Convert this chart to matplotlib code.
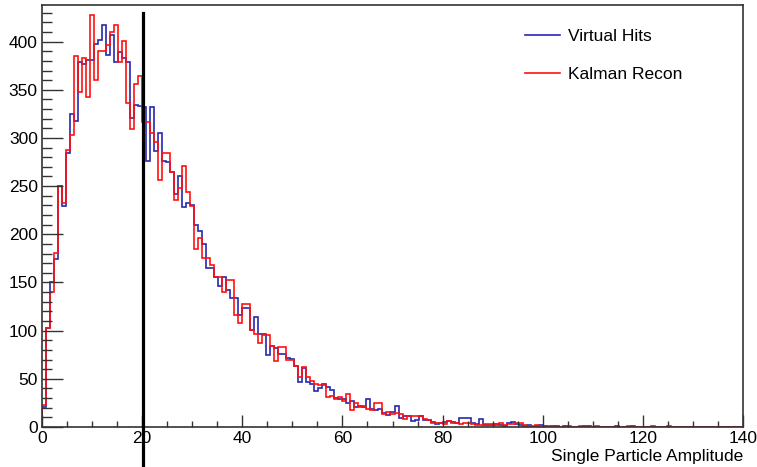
import numpy as np
import matplotlib
matplotlib.use("Agg")
import matplotlib.pyplot as plt
from matplotlib.ticker import MultipleLocator

# histogram contents, 175 bins of width 0.8 from 0 to 140
virtual_hits = [
    21, 103, 150, 174, 250, 229, 284, 325, 318, 379,
    377, 381, 381, 398, 402, 417, 386, 407, 379, 389,
    383, 379, 321, 334, 333, 332, 276, 332, 286, 305,
    276, 275, 265, 242, 260, 228, 232, 230, 210, 203,
    190, 165, 165, 156, 146, 156, 142, 134, 134, 116,
    123, 123, 101, 114, 97, 97, 75, 84, 82, 76,
    76, 72, 71, 63, 47, 61, 47, 45, 37, 40,
    45, 41, 38, 30, 29, 29, 25, 27, 21, 22,
    21, 29, 19, 18, 19, 15, 12, 16, 22, 9,
    11, 11, 6, 7, 11, 7, 7, 5, 3, 4,
    5, 6, 5, 4, 9, 9, 9, 4, 3, 8,
    2, 2, 2, 3, 2, 1, 4, 5, 3, 2,
    1, 2, 0, 1, 2, 1, 0, 1, 1, 0,
    1, 0, 0, 0, 0, 1, 1, 0, 0, 0,
    0, 0, 0, 1, 0, 0, 0, 1, 0, 0,
    0, 0, 0, 0, 0, 0, 0, 0, 0, 0,
    0, 0, 0, 0, 0, 0, 0, 0, 0, 0,
    0, 0, 0, 0, 0,
]
kalman_recon = [
    23, 103, 140, 181, 250, 233, 287, 303, 385, 348,
    383, 343, 428, 360, 390, 390, 397, 410, 417, 379,
    401, 336, 309, 356, 364, 317, 317, 305, 296, 256,
    284, 284, 265, 236, 248, 271, 244, 229, 185, 196,
    175, 175, 168, 156, 156, 140, 153, 153, 116, 108,
    128, 128, 101, 97, 87, 95, 95, 84, 69, 83,
    83, 70, 70, 63, 52, 62, 52, 48, 45, 44,
    44, 31, 32, 29, 31, 27, 34, 18, 25, 21,
    22, 19, 18, 25, 25, 14, 16, 14, 15, 14,
    8, 11, 11, 11, 11, 8, 7, 4, 4, 4,
    3, 6, 4, 4, 3, 4, 4, 3, 2, 2,
    3, 3, 3, 2, 4, 2, 3, 3, 4, 4,
    2, 1, 1, 2, 0, 1, 1, 0, 1, 0,
    0, 1, 0, 0, 1, 0, 0, 0, 1, 0,
    0, 0, 0, 0, 0, 0, 1, 0, 0, 0,
    0, 0, 1, 0, 0, 0, 1, 0, 0, 0,
    0, 0, 0, 0, 0, 0, 0, 0, 0, 0,
    0, 0, 0, 0, 0,
]
cut_value = 20.1

plt.rcParams['font.family'] = ['Liberation Sans', 'DejaVu Sans']

fig = plt.figure(figsize=(7.57, 4.67), dpi=100)
ax = fig.add_axes([42 / 757, 1 - 427 / 467, 701 / 757, 422 / 467])

edges = np.linspace(0, 140, len(virtual_hits) + 1)
ax.stairs(virtual_hits, edges, color='#2828b4', lw=1.2, label='Virtual Hits')
ax.stairs(kalman_recon, edges, color='#ff1010', lw=1.2, label='Kalman Recon')

# vertical cut line, runs past the bottom of the frame
ax.plot([cut_value, cut_value], [-45, 430], color='black', lw=2.3, clip_on=False, zorder=5)

ax.set_xlim(0, 140)
ax.set_ylim(0, 438)

ax.xaxis.set_major_locator(MultipleLocator(20))
ax.xaxis.set_minor_locator(MultipleLocator(5))
ax.yaxis.set_major_locator(MultipleLocator(50))
ax.yaxis.set_minor_locator(MultipleLocator(10))
ax.tick_params(axis='x', which='major', direction='in', length=8.5, width=1, pad=3,
               labelsize=12.5, color='#333333')
ax.tick_params(axis='x', which='minor', direction='in', length=4.3, width=1, color='#333333')
ax.tick_params(axis='y', which='major', direction='in', length=15, width=1, pad=3,
               labelsize=12.5, color='#333333')
ax.tick_params(axis='y', which='minor', direction='in', length=7, width=1, color='#333333')

for s in ax.spines.values():
    s.set_color('#333333')
    s.set_linewidth(1.2)

fig.text(743 / 757, 1 - 456 / 467, 'Single Particle Amplitude', ha='right', va='center',
         fontsize=12.5)

ax.legend(loc='upper left', bbox_to_anchor=(525 / 757, 1 - 29 / 467),
          bbox_transform=fig.transFigure, frameon=False, fontsize=12.5,
          handlelength=2.0, handletextpad=0.5, labelspacing=1.33,
          borderpad=0, borderaxespad=0)

fig.savefig('out.png', dpi=100)
